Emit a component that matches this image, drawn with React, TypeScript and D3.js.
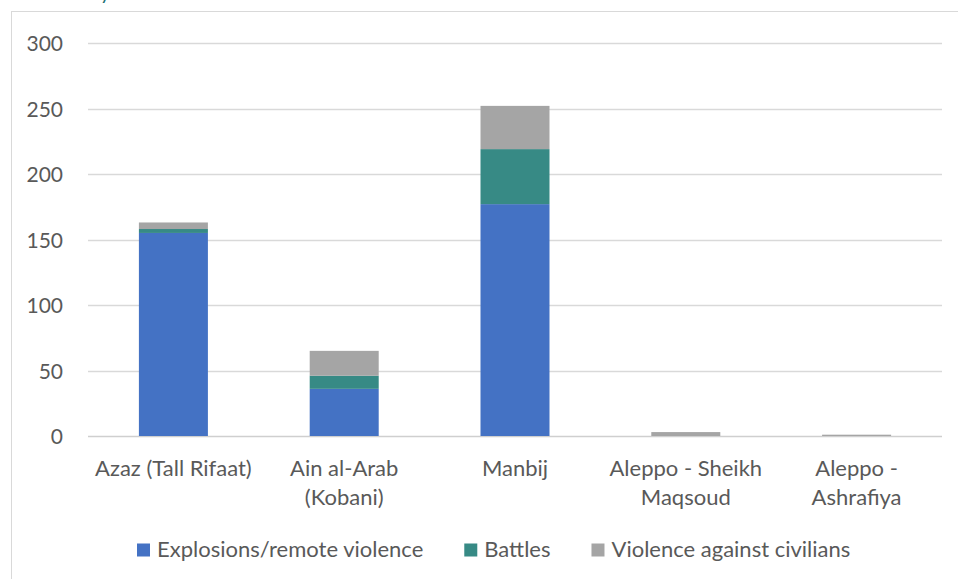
import React, { useEffect, useRef } from "react";
import * as d3 from "d3";

const categories = [
  "Azaz (Tall Rifaat)",
  "Ain al-Arab (Kobani)",
  "Manbij",
  "Aleppo - Sheikh Maqsoud",
  "Aleppo - Ashrafiya",
];
const categoryLines = [
  ["Azaz (Tall Rifaat)"],
  ["Ain al-Arab", "(Kobani)"],
  ["Manbij"],
  ["Aleppo - Sheikh", "Maqsoud"],
  ["Aleppo -", "Ashrafiya"],
];
const seriesNames = ["Explosions/remote violence", "Battles", "Violence against civilians"];
const explosions = [155, 36, 177, 0, 0];
const battles = [3, 10, 42, 0, 0];
const civilians = [5, 19, 33, 3, 1];
const yTicks = [0, 50, 100, 150, 200, 250, 300];
const colors = ["#4472C4", "#378A85", "#A5A5A5"];

const W = 958;
const H = 579;
const FONT = "Lato, 'Open Sans', sans-serif";
const TEXT = "#595959";

export default function App() {
  const ref = useRef<SVGSVGElement | null>(null);

  useEffect(() => {
    const svg = d3.select(ref.current);
    svg.selectAll("*").remove();

    const x = d3.scaleBand<string>().domain(categories).range([88, 942]).paddingInner(0.596).paddingOuter(0.298);
    const y = d3.scaleLinear().domain([0, 300]).range([436, 43]);

    // chart frame (cut off on right and bottom)
    svg.append("rect")
      .attr("x", 11.5).attr("y", 11.5)
      .attr("width", W + 20).attr("height", H + 20)
      .attr("fill", "#fff").attr("stroke", "#d9d9d9");

    // title, mostly above the visible area
    svg.append("text").attr("x", 100).attr("y", 0)
      .attr("font-family", FONT).attr("font-size", 20).attr("fill", "#1b6f74").text("y");

    // gridlines
    svg.append("g").selectAll("line").data(yTicks).join("line")
      .attr("x1", 88).attr("x2", 942)
      .attr("y1", (d) => Math.round(y(d)) + 0.5).attr("y2", (d) => Math.round(y(d)) + 0.5)
      .attr("stroke", (d) => (d === 0 ? "#cfcfcf" : "#d9d9d9")).attr("stroke-width", 1.3);

    svg.append("g").selectAll("text").data(yTicks).join("text")
      .attr("x", 63).attr("y", (d) => y(d) + 8)
      .attr("text-anchor", "end")
      .attr("font-family", FONT).attr("font-size", 21).attr("fill", TEXT)
      .text((d) => d);

    const rows = categories.map((c, i) => ({
      category: c,
      explosions: explosions[i],
      battles: battles[i],
      civilians: civilians[i],
    }));
    const stack = d3.stack<any>().keys(["explosions", "battles", "civilians"]);
    const stacked = stack(rows);

    svg.append("g").selectAll("g").data(stacked).join("g")
      .attr("fill", (_, i) => colors[i])
      .selectAll("rect").data((d) => d).join("rect")
      .attr("x", (d) => x(d.data.category)!)
      .attr("width", x.bandwidth())
      .attr("y", (d) => y(d[1]))
      .attr("height", (d) => Math.max(0, y(d[0]) - y(d[1])));

    // category labels
    const cat = svg.append("g").selectAll("text").data(categories).join("text")
      .attr("text-anchor", "middle")
      .attr("font-family", FONT).attr("font-size", 22).attr("fill", TEXT);
    cat.selectAll("tspan").data((_, i) => categoryLines[i]).join("tspan")
      .attr("x", function () {
        const c = d3.select((this as any).parentNode).datum() as string;
        return x(c)! + x.bandwidth() / 2;
      })
      .attr("y", (_, j) => 476 + j * 29)
      .text((d) => d);

    // legend, laid out from measured text widths
    const lg = svg.append("g");
    let cx = 137;
    seriesNames.forEach((name, i) => {
      lg.append("rect").attr("x", cx).attr("y", 543.5).attr("width", 13).attr("height", 13).attr("fill", colors[i]);
      const t = lg.append("text").attr("x", cx + 20).attr("y", 557)
        .attr("font-family", FONT).attr("font-size", 22).attr("fill", TEXT)
        .text(name);
      const w = (t.node() as SVGTextElement).getComputedTextLength();
      cx += 20 + w + 41;
    });
  }, []);

  return (
    <svg
      ref={ref}
      width={W}
      height={H}
      style={{ position: "absolute", left: 0, top: 0, background: "#fff" }}
    />
  );
}
